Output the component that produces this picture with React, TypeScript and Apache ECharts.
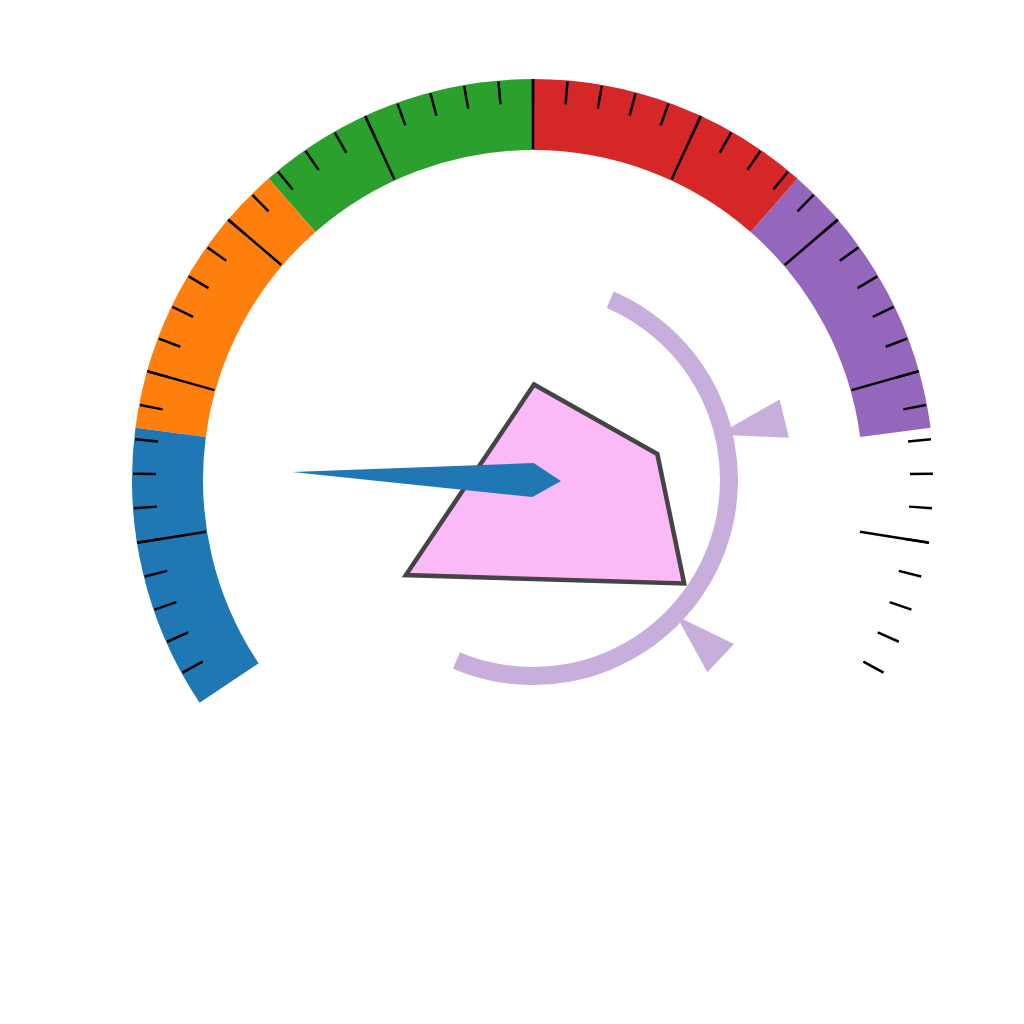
import React, { useEffect, useRef } from "react";
import * as echarts from "echarts";

// ---- Gauge scale ----
const scaleMin = 0;
const scaleMax = 100;
const gaugeStartAngle = 213.75;
const gaugeEndAngle = -33.75;

// colour bands (upper stop as fraction of the scale)
const bandStops = [1 / 6, 2 / 6, 3 / 6, 4 / 6, 5 / 6, 1];
const bandColors = ["#1f77b4", "#ff7f0e", "#2ca02c", "#d62728", "#9467bd", "rgba(255,255,255,0)"];

// ticks (end ticks at 0 and 100 are not drawn)
const majorTickMin = 10;
const majorTickMax = 90;
const majorTickCount = 8; // intervals
const minorTickMin = 2;
const minorTickMax = 98;
const minorTickCount = 48; // intervals

// needle
const needleValue = 14.4;

// lavender arc (degrees) and its two arrow heads
const arcStartAngle = 66.8;
const arcEndAngle = -113;
const triangleAngles = [13.75, -43.5];
const triangleApexR = [0.474, 0.493];
const triangleBaseR = [0.647, 0.647];
const triangleHalfSpread = [4.35, 4.3];

// pink polygon (data units, outer gauge radius = 1)
const polyX = [0.0025, 0.31, 0.377, -0.317];
const polyY = [0.238, 0.065, -0.258, -0.237];

const arcColor = "#c8aedc";

const valueToAngle = (v: number) =>
  gaugeStartAngle + ((v - scaleMin) / (scaleMax - scaleMin)) * (gaugeEndAngle - gaugeStartAngle);

export default function App() {
  const ref = useRef<HTMLDivElement>(null);
  useEffect(() => {
    if (!ref.current) return;
    const chart = echarts.init(ref.current, undefined, { renderer: "svg" });
    const center = [533, 480];
    const R = 401;
    const hidden = {
      axisTick: { show: false },
      axisLabel: { show: false },
      title: { show: false },
      detail: { show: false },
      anchor: { show: false },
      progress: { show: false },
    };
    const tickGauge = (min: number, max: number, count: number, len: number, radius: number, z: number) => ({
      type: "gauge",
      z,
      center,
      radius,
      startAngle: valueToAngle(min),
      endAngle: valueToAngle(max),
      min,
      max,
      splitNumber: count,
      axisLine: { show: false, lineStyle: { width: 0 } },
      splitLine: { show: true, length: len, distance: 0, lineStyle: { color: "#000", width: 2.5, cap: "butt" } },
      pointer: { show: false },
      ...hidden,
      data: [{ value: min }],
    });
    chart.setOption({
      animation: false,
      backgroundColor: "#ffffff",
      grid: { left: center[0] - R, top: center[1] - R, width: 2 * R, height: 2 * R, show: false },
      xAxis: { type: "value", min: -1, max: 1, show: false },
      yAxis: { type: "value", min: -1, max: 1, show: false },
      series: [
        {
          type: "gauge",
          z: 2,
          center,
          radius: R,
          startAngle: gaugeStartAngle,
          endAngle: gaugeEndAngle,
          min: scaleMin,
          max: scaleMax,
          axisLine: {
            show: true,
            roundCap: false,
            lineStyle: { width: 71, color: bandStops.map((s, i) => [s, bandColors[i]]) },
          },
          splitLine: { show: false },
          pointer: { show: false },
          ...hidden,
          data: [{ value: needleValue }],
        },
        tickGauge(minorTickMin, minorTickMax, minorTickCount, 23, 400, 3),
        tickGauge(majorTickMin, majorTickMax, majorTickCount, 70, 401, 3),
        {
          type: "gauge",
          z: 4,
          center,
          radius: 205,
          startAngle: arcStartAngle,
          endAngle: arcEndAngle,
          min: 0,
          max: 1,
          axisLine: { show: true, roundCap: false, lineStyle: { width: 18, color: [[1, arcColor]] } },
          splitLine: { show: false },
          pointer: { show: false },
          ...hidden,
          data: [{ value: 0 }],
        },
        {
          type: "custom",
          z: 4,
          coordinateSystem: "cartesian2d",
          data: triangleAngles.map((a, i) => [a, triangleApexR[i], triangleBaseR[i], triangleHalfSpread[i]]),
          renderItem: (params: any, api: any) => {
            const a = api.value(0);
            const ra = api.value(1);
            const rb = api.value(2);
            const hs = api.value(3);
            const toPt = (deg: number, r: number) =>
              api.coord([r * Math.cos((deg * Math.PI) / 180), r * Math.sin((deg * Math.PI) / 180)]);
            return {
              type: "polygon",
              shape: { points: [toPt(a, ra), toPt(a + hs, rb), toPt(a - hs, rb)] },
              style: { fill: arcColor },
            };
          },
        },
        {
          type: "custom",
          z: 5,
          coordinateSystem: "cartesian2d",
          data: [[polyX[0], polyY[0]]],
          renderItem: (params: any, api: any) => {
            const pts = polyX.map((x, i) => api.coord([x, polyY[i]]));
            return {
              type: "polygon",
              shape: { points: pts },
              style: { fill: "#fbb9f8", stroke: "#444444", lineWidth: 4.5, lineJoin: "miter" },
            };
          },
        },
        {
          type: "gauge",
          z: 6,
          center,
          radius: R,
          startAngle: gaugeStartAngle,
          endAngle: gaugeEndAngle,
          min: scaleMin,
          max: scaleMax,
          axisLine: { show: false, lineStyle: { width: 0 } },
          splitLine: { show: false },
          pointer: {
            show: true,
            icon: "path://M17 0 L34 241 L17 269 L0 241 Z",
            length: 269,
            width: 34,
            offsetCenter: [0, 28],
            keepAspect: false,
            itemStyle: { color: "#1f77b4" },
          },
          itemStyle: { color: "#1f77b4" },
          ...hidden,
          data: [{ value: needleValue }],
        },
      ],
    } as any);
    return () => chart.dispose();
  }, []);
  return (
    <div
      ref={ref}
      style={{ position: "absolute", left: 0, top: 0, width: 1024, height: 1024 }}
    />
  );
}
